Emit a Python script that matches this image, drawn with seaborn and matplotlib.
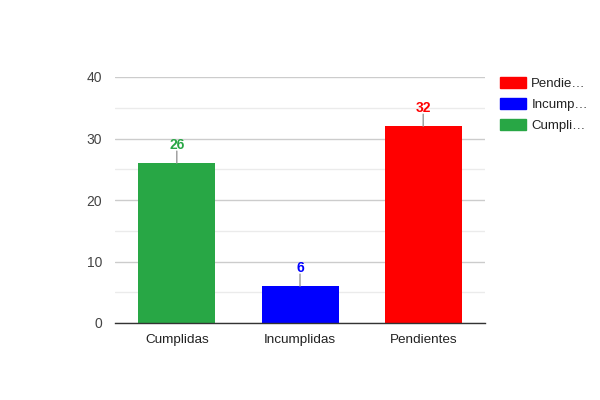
import matplotlib
matplotlib.use("Agg")
import matplotlib.pyplot as plt
import matplotlib.patches as mpatches
import pandas as pd
import seaborn as sns

categories = ["Cumplidas", "Incumplidas", "Pendientes"]
values = [26, 6, 32]
colors = ["#28a745", "#0000ff", "#ff0000"]
legend_labels = ["Pendie…", "Incump…", "Cumpli…"]
y_ticks = [0, 10, 20, 30, 40]
y_minor = [5, 15, 25, 35]

sns.set_theme(style="white")
plt.rcParams["font.family"] = ["Liberation Sans", "DejaVu Sans"]

df = pd.DataFrame({"categoria": categories, "valor": values})

fig = plt.figure(figsize=(6, 4), dpi=100)
ax = fig.add_axes([0.192, 0.1925, 0.616, 0.615])

sns.barplot(data=df, x="categoria", y="valor", hue="categoria",
            palette=colors, width=0.625, saturation=1, linewidth=0,
            legend=False, ax=ax)

ax.set_ylim(0, 40)
ax.set_xlim(-0.5, 2.5)
ax.set_yticks(y_ticks)
ax.set_yticks(y_minor, minor=True)
ax.grid(axis="y", which="major", color="#cccccc", lw=1)
ax.grid(axis="y", which="minor", color="#ebebeb", lw=1)
ax.set_axisbelow(True)
ax.tick_params(axis="y", which="both", length=0, labelsize=10, labelcolor="#444444", pad=9.5)
ax.tick_params(axis="x", length=0, labelsize=9.7, labelcolor="#222222", pad=8)
ax.set_xlabel("")
ax.set_ylabel("")
for s in ["top", "right", "left"]:
    ax.spines[s].set_visible(False)
ax.spines["bottom"].set_color("#333333")
ax.spines["bottom"].set_linewidth(1)

# value labels with a short grey stem, like the google chart annotations
for i, (v, c) in enumerate(zip(values, colors)):
    ax.annotate(str(v), xy=(i, v), xytext=(0, 14), textcoords="offset pixels",
                ha="center", va="baseline", color=c, fontsize=10, fontweight="bold")
    ax.annotate("", xy=(i, v), xytext=(0, 12), textcoords="offset pixels",
                arrowprops=dict(arrowstyle="-", color="#999999", lw=1,
                                shrinkA=0, shrinkB=0))

handles = [mpatches.Patch(color=c) for c in colors[::-1]]
leg = fig.legend(handles, legend_labels, loc="upper left",
                 bbox_to_anchor=(0.825, 0.82), frameon=False,
                 fontsize=9.5, handlelength=1.95, handleheight=0.9,
                 handletextpad=0.4, labelspacing=0.58, borderaxespad=0)
for t in leg.get_texts():
    t.set_color("#222222")

fig.savefig("out.png", dpi=100)
